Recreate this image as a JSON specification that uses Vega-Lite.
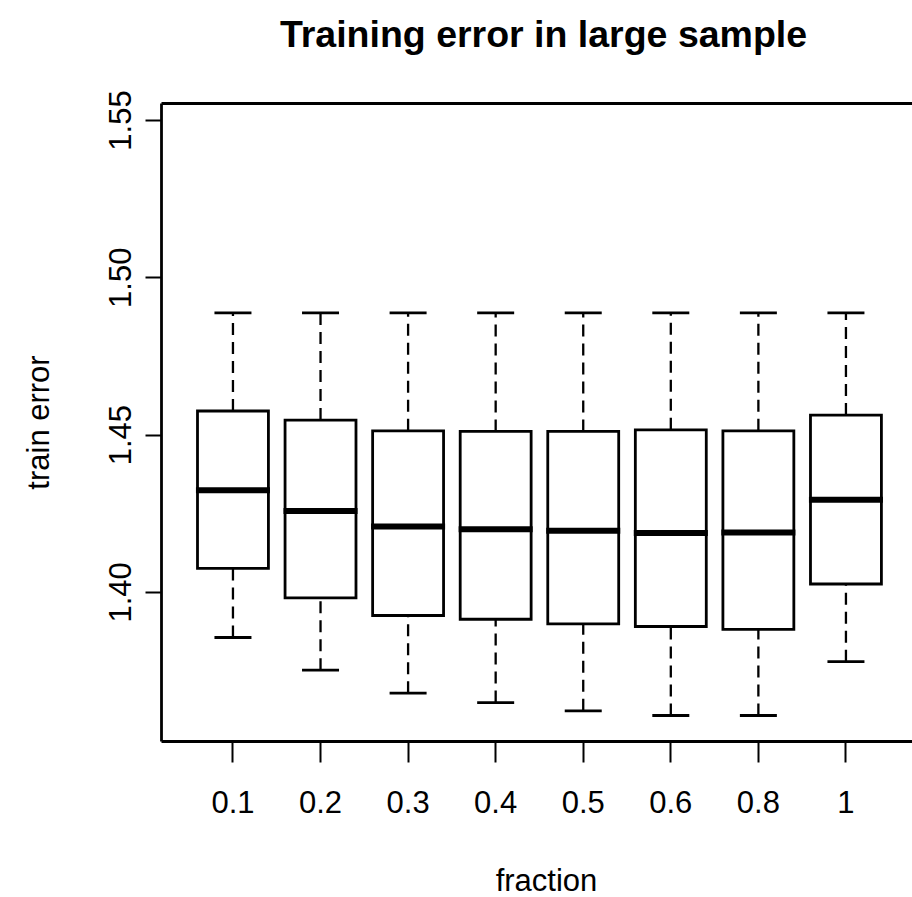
{
  "$schema": "https://vega.github.io/schema/vega-lite/v6.json",
  "autosize": "none",
  "width": 751,
  "height": 638,
  "padding": {"left": 161, "top": 103, "right": 0, "bottom": 156},
  "background": "white",
  "config": {
    "font": "Liberation Sans",
    "view": {"stroke": null},
    "axis": {"grid": false}
  },
  "title": {
    "text": "Training error in large sample",
    "font": "Liberation Sans",
    "fontSize": 37.5,
    "fontWeight": "bold",
    "color": "black",
    "baseline": "alphabetic",
    "offset": 5,
    "dx": 7
  },
  "data": {
    "values": [
      {"fraction": "0.1", "lower": 1.3855, "q1": 1.4075, "median": 1.4323, "q3": 1.4575, "upper": 1.4887},
      {"fraction": "0.2", "lower": 1.3751, "q1": 1.3981, "median": 1.4257, "q3": 1.4546, "upper": 1.4887},
      {"fraction": "0.3", "lower": 1.3678, "q1": 1.3925, "median": 1.4208, "q3": 1.4512, "upper": 1.4887},
      {"fraction": "0.4", "lower": 1.3648, "q1": 1.3913, "median": 1.4199, "q3": 1.4510, "upper": 1.4887},
      {"fraction": "0.5", "lower": 1.3622, "q1": 1.3898, "median": 1.4194, "q3": 1.4510, "upper": 1.4887},
      {"fraction": "0.6", "lower": 1.3607, "q1": 1.3890, "median": 1.4187, "q3": 1.4515, "upper": 1.4887},
      {"fraction": "0.8", "lower": 1.3607, "q1": 1.3881, "median": 1.4189, "q3": 1.4512, "upper": 1.4887},
      {"fraction": "1", "lower": 1.3778, "q1": 1.4025, "median": 1.4293, "q3": 1.4562, "upper": 1.4887}
    ]
  },
  "resolve": {"axis": {"x": "independent"}},
  "layer": [
    {
      "mark": {"type": "rule", "color": "black", "strokeWidth": 2.3, "strokeDash": [12, 7]},
      "encoding": {
        "x": {
          "field": "fraction", "type": "ordinal", "sort": null,
          "scale": {"type": "band", "paddingInner": 0.19, "paddingOuter": 0.383, "align": 0.544},
          "axis": {
            "orient": "bottom",
            "title": "fraction",
            "titleFont": "Liberation Sans",
            "titleFontSize": 31,
            "titleFontWeight": "normal",
            "titleColor": "black",
            "titleBaseline": "alphabetic",
            "titleY": 149,
            "titleX": 385,
            "titleAnchor": null,
            "labelFont": "Liberation Sans",
            "labelFontSize": 31,
            "labelColor": "black",
            "labelAngle": 0,
            "labelBaseline": "alphabetic",
            "labelPadding": 50,
            "tickSize": 21,
            "tickWidth": 2,
            "tickColor": "black",
            "domain": true,
            "domainColor": "black",
            "domainWidth": 2.8
          }
        },
        "y": {
          "field": "lower", "type": "quantitative",
          "scale": {"domain": [1.3526, 1.5554], "zero": false, "nice": false},
          "axis": {
            "values": [1.40, 1.45, 1.50, 1.55],
            "format": ".2f",
            "title": "train error",
            "titleFont": "Liberation Sans",
            "titleFontSize": 31,
            "titleFontWeight": "normal",
            "titleColor": "black",
            "titleAngle": 270,
            "titleBaseline": "alphabetic",
            "titleAlign": "center",
            "titleX": -113,
            "titleY": 319,
            "labelFont": "Liberation Sans",
            "labelFontSize": 31,
            "labelColor": "black",
            "labelAngle": 270,
            "labelAlign": "center",
            "labelBaseline": "alphabetic",
            "labelPadding": 15,
            "tickSize": 16,
            "tickWidth": 2,
            "tickColor": "black",
            "domain": true,
            "domainColor": "black",
            "domainWidth": 2.8
          }
        },
        "y2": {"field": "q1"}
      }
    },
    {
      "mark": {"type": "rule", "color": "black", "strokeWidth": 2.3, "strokeDash": [12, 7]},
      "encoding": {
        "x": {
          "field": "fraction", "type": "ordinal", "sort": null,
          "axis": {
            "orient": "top",
            "title": null,
            "labels": false,
            "ticks": false,
            "domain": true,
            "domainColor": "black",
            "domainWidth": 2.8
          }
        },
        "y": {"field": "q3", "type": "quantitative"},
        "y2": {"field": "upper"}
      }
    },
    {
      "mark": {"type": "bar", "fill": "white", "stroke": "black", "strokeWidth": 2.8},
      "encoding": {
        "x": {"field": "fraction", "type": "ordinal", "sort": null, "axis": null},
        "y": {"field": "q1", "type": "quantitative"},
        "y2": {"field": "q3"}
      }
    },
    {
      "mark": {"type": "tick", "color": "black", "thickness": 6, "size": 74, "opacity": 1},
      "encoding": {
        "x": {"field": "fraction", "type": "ordinal", "sort": null, "axis": null},
        "y": {"field": "median", "type": "quantitative"}
      }
    },
    {
      "mark": {"type": "tick", "color": "black", "thickness": 2.8, "size": 37, "opacity": 1},
      "encoding": {
        "x": {"field": "fraction", "type": "ordinal", "sort": null, "axis": null},
        "y": {"field": "lower", "type": "quantitative"}
      }
    },
    {
      "mark": {"type": "tick", "color": "black", "thickness": 2.8, "size": 37, "opacity": 1},
      "encoding": {
        "x": {"field": "fraction", "type": "ordinal", "sort": null, "axis": null},
        "y": {"field": "upper", "type": "quantitative"}
      }
    }
  ]
}
